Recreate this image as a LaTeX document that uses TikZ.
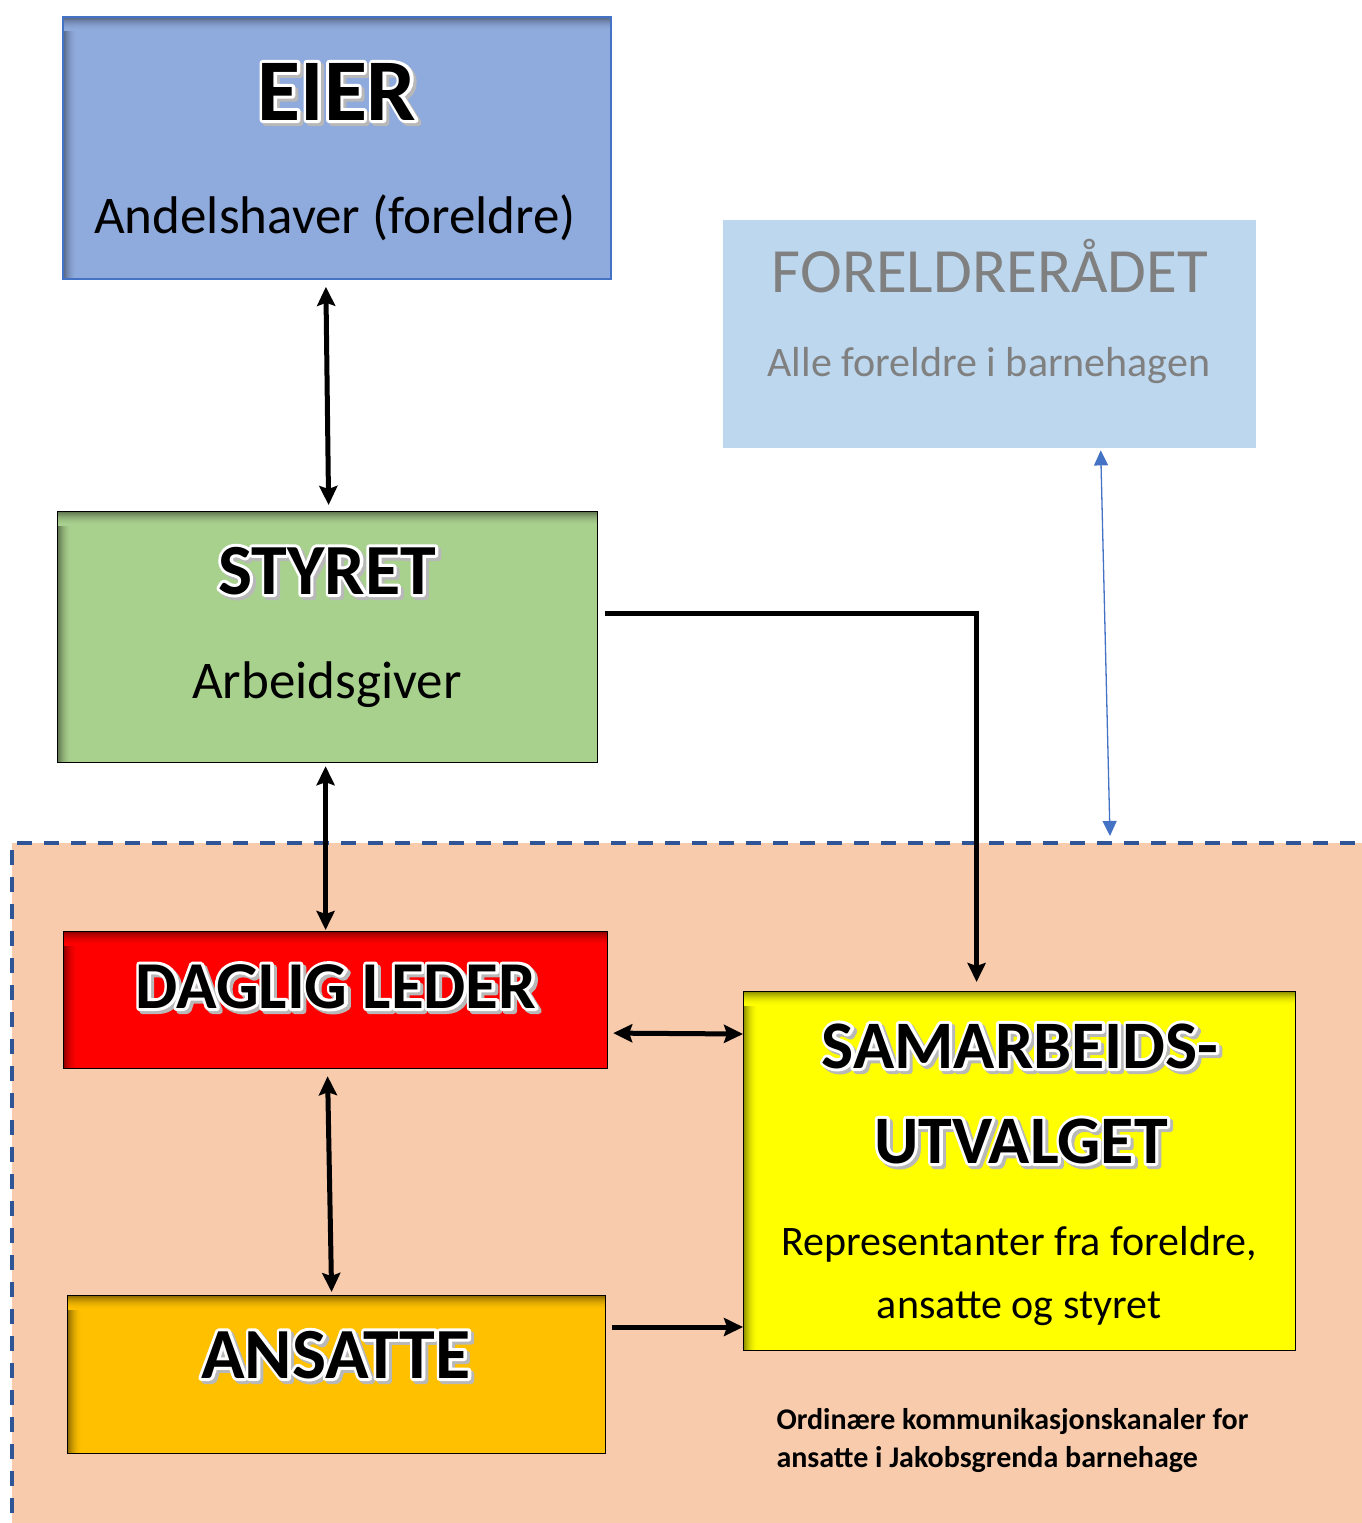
\documentclass[tikz,border=0pt]{standalone}
\usepackage{fontspec}
\setmainfont{Carlito}
\usetikzlibrary{arrows.meta,positioning,calc}

\definecolor{eierfill}{HTML}{8FAADC}
\definecolor{eierline}{HTML}{4472C4}
\definecolor{styretfill}{HTML}{A9D18E}
\definecolor{faufill}{HTML}{BDD7EE}
\definecolor{faugray}{HTML}{808080}
\definecolor{lederred}{HTML}{FF0000}
\definecolor{ansattefill}{HTML}{FFC000}
\definecolor{suyellow}{HTML}{FFFF00}
\definecolor{zonefill}{HTML}{F8CBAD}
\definecolor{zoneline}{HTML}{2F5597}

% fat text: fill and stroke in the current colour
\newcommand{\fattext}[3]{\special{pdf:literal direct #1 w 1 j 2 Tr}\textcolor{#2}{#3}\special{pdf:literal direct 0 Tr 1 w}}
% white outline with a grey drop shadow
\newcommand{\glow}[1]{\rlap{\kern3pt\raisebox{-3pt}{\fattext{6}{black!28}{#1}}}\rlap{\fattext{6}{white}{#1}}#1}

\tikzset{
  orgbox/.style={anchor=north west, inner sep=0pt, fill=#1, draw=black, line width=1.2pt,
    path picture={
      \foreach \i in {0,...,13} {
        \pgfmathsetmacro\mix{100-42*(1-\i/14)^2}
        \draw[draw=#1!\mix!black, line width=1.1pt]
          ([yshift=-\i pt-0.5pt]path picture bounding box.north west) -- ([yshift=-\i pt-0.5pt]path picture bounding box.north east);
        \draw[draw=#1!\mix!black, line width=1.1pt]
          ([xshift=\i pt+0.5pt,yshift=-\i pt]path picture bounding box.north west) -- ([xshift=\i pt+0.5pt]path picture bounding box.south west);
      }
    }},
  titletext/.style={anchor=base, font=\bfseries\fontsize{#1}{#1}\selectfont},
  plaintext/.style={anchor=base, font=\fontsize{#1}{#1}\selectfont},
  link/.style={draw=black, line width=5pt, {Stealth[length=19pt,width=18pt,inset=3pt]}-{Stealth[length=19pt,width=18pt,inset=3pt]}},
  oneway/.style={draw=black, line width=5pt, -{Stealth[length=19pt,width=18pt,inset=3pt]}},
  faulink/.style={line width=1.3pt, draw=eierline, {Triangle[length=15pt,width=14pt,fill=eierline]}-{Triangle[length=15pt,width=14pt,fill=eierline]}},
}

\begin{document}
\begin{tikzpicture}[x=1pt, y=-1pt]
  \useasboundingbox (0,0) rectangle (1362,1523);
  \clip (0,0) rectangle (1362,1523);

  % barnehage zone
  \fill[zonefill] (12,843) rectangle (1380,1540);
  \draw[zoneline, line width=3.5pt, dash pattern=on 15pt off 12pt] (12,1540) -- (12,843) -- (1380,843);
  \coordinate (zonetop) at (1110,836);

  % boxes
  \node[orgbox=eierfill, draw=eierline, line width=1.8pt, minimum width=548pt, minimum height=262pt] (eier) at (62,16) {};
  \node[orgbox=styretfill, minimum width=540pt, minimum height=251pt] (styret) at (57,511) {};
  \node[fill=faufill, anchor=north west, inner sep=0pt, minimum width=533pt, minimum height=228pt] (fau) at (723,220) {};
  \node[orgbox=lederred, minimum width=544pt, minimum height=137pt] (leder) at (63,931) {};
  \node[orgbox=ansattefill, minimum width=538pt, minimum height=158pt] (ansatte) at (67,1295) {};
  \node[orgbox=suyellow, minimum width=552pt, minimum height=359pt] (su) at (743,991) {};

  % texts
  \node[titletext=88] (eiertitle) at (337,120) {\glow{EIER}};
  \node[plaintext=53] (eiersub) at (335,233) {Andelshaver (foreldre)};
  \node[titletext=72] (styrettitle) at (327,594) {\glow{STYRET}};
  \node[plaintext=53] (styretsub) at (327,698) {Arbeidsgiver};
  \node[plaintext=63, text=faugray] (fautitle) at (990,292) {FORELDRERÅDET};
  \node[plaintext=42, text=faugray] (fausub) at (989,376) {Alle foreldre i barnehagen};
  \node[titletext=67] (ledertitle) at (336,1008) {\glow{DAGLIG LEDER}};
  \node[titletext=72] (ansattetitle) at (336,1378) {\glow{ANSATTE}};
  \node[titletext=68] (sutitle) at (1020,1068) {\glow{SAMARBEIDS-}};
  \node[titletext=68] (sutitlenext) at (1021,1163) {\glow{UTVALGET}};
  \node[plaintext=42] (susub) at (1019,1255) {Representanter fra foreldre,};
  \node[plaintext=42] (susubnext) at (1019,1318) {ansatte og styret};
  \node[anchor=base west, align=left, font=\bfseries\fontsize{30}{38}\selectfont] (note) at (773,1467)
    {Ordinære kommunikasjonskanaler for\\ansatte i Jakobsgrenda barnehage};

  % connectors
  \draw[link] ([xshift=-11pt,yshift=-7pt]eier.south) -- ([xshift=1pt,yshift=6pt]styret.north);
  \draw[link] ([xshift=-2pt,yshift=-3pt]styret.south) -- ([xshift=-10pt,yshift=1pt]leder.north);
  \draw[link] ([xshift=-8pt,yshift=-7pt]leder.south) -- ([xshift=-5pt,yshift=3pt]ansatte.north);
  \draw[link] ([xshift=5pt,yshift=-33pt]leder.east) -- ([yshift=-43pt]su.north west);
  \draw[oneway] ([xshift=6pt,yshift=-32pt]ansatte.north east) -- ([yshift=-336pt]su.north west);
  \draw[oneway] ([xshift=7pt,yshift=24pt]styret.east) -| ([xshift=-43pt,yshift=9pt]su.north);
  \draw[faulink] ([xshift=111pt,yshift=-2pt]fau.south) -- (zonetop);
\end{tikzpicture}
\end{document}
